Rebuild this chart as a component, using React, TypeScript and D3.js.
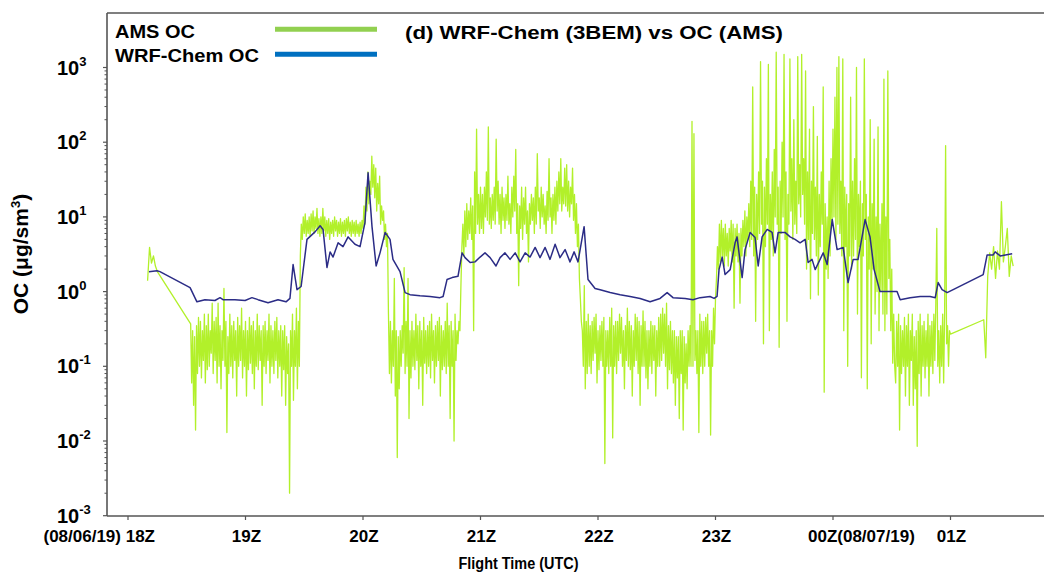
import React from 'react';
import * as d3 from 'd3';

const W = 1044;
const H = 576;
const FONT = '"Liberation Sans", Arial, Helvetica, sans-serif';

// x unit: minutes after 18Z (08/06/19)
const HOUR_TICKS = [0, 60, 120, 180, 240, 300, 360, 420];
const HOUR_LABELS = ['(08/06/19) 18Z', '19Z', '20Z', '21Z', '22Z', '23Z', '00Z(08/07/19)', '01Z'];
const Y_EXPONENTS = [-3, -2, -1, 0, 1, 2, 3];

// AMS OC observations; each array begins at the given minute with the given sample step (min)
const ams1 = [1.4, 3.9, 2.4, 3.0, 2.2, 1.85]; // from minute 10, step 1
const ams2 = [ // from minute 32, step 0.5
  0.37, 0.06, 0.3, 0.03, 0.25, 0.014, 0.35, 0.08, 0.45, 0.1,
  0.4, 0.07, 0.3, 0.12, 0.5, 0.06, 0.35, 0.09, 0.5, 0.1,
  0.3, 0.15, 0.7, 0.08, 0.4, 0.12, 0.45, 0.06, 0.7, 0.1,
  0.35, 0.05, 0.3, 0.12, 1.1, 0.1, 0.4, 0.013, 0.25, 0.08,
  0.5, 0.1, 0.35, 0.07, 0.4, 0.12, 0.3, 0.04, 0.45, 0.1,
  0.35, 0.12, 0.6, 0.07, 0.3, 0.1, 0.4, 0.04, 0.3, 0.09,
  0.45, 0.11, 0.35, 0.08, 0.4, 0.05, 0.3, 0.1, 0.5, 0.09,
  0.35, 0.12, 0.3, 0.03, 0.35, 0.1, 0.4, 0.08, 0.3, 0.12,
  0.5, 0.06, 0.35, 0.1, 0.3, 0.08, 0.4, 0.12, 0.45, 0.07,
  0.3, 0.1, 0.35, 0.04, 0.3, 0.09, 0.35, 0.03, 0.25, 0.08,
  0.2, 0.002, 0.3, 0.1, 0.5, 0.035, 0.3, 0.1, 0.6, 0.05,
  0.4, 0.1];
const ams3 = [ // from minute 88, step 0.5
  3, 8, 5, 10, 6, 11, 5.5, 9, 6, 10,
  5.5, 11, 6.5, 12, 6, 10, 7, 13, 6, 9.5,
  5.5, 10, 6, 13, 6.5, 10, 5.5, 9, 6, 9.5,
  5, 8.5, 6, 9, 5.5, 10, 6.5, 9, 5.5, 8.5,
  6, 9.5, 5.5, 8.5, 6, 9, 5.5, 9.5, 6.5, 10,
  6, 8.5, 5.5, 9, 6, 8.5, 5.5, 9, 6, 8,
  5.5, 8.5, 6, 9, 7, 14, 8, 25, 12, 40,
  15, 30, 20, 65, 25, 50, 18, 45, 12, 28,
  15, 35, 8, 14, 9, 12, 5, 8, 4, 6];
const ams4 = [ // from minute 133, step 0.5
  0.5, 0.08, 0.4, 0.06, 0.3, 0.1, 1.5, 0.04, 0.3, 0.006,
  0.25, 0.05, 0.3, 0.1, 0.35, 0.15, 2.1, 0.08, 0.4, 0.1,
  1.5, 0.02, 0.3, 0.07, 0.4, 0.1, 0.3, 0.09, 0.5, 0.12,
  0.35, 0.05, 0.4, 0.1, 0.3, 0.03, 0.45, 0.11, 0.3, 0.08,
  0.35, 0.1, 0.4, 0.07, 0.5, 0.12, 0.3, 0.06, 0.35, 0.1,
  0.4, 0.12, 0.45, 0.04, 0.35, 0.09, 0.3, 0.1, 0.4, 0.08,
  0.7, 0.1, 0.35, 0.02, 0.4, 0.1, 0.3, 0.01, 0.5, 0.12,
  0.3, 0.2, 0.4, 0.3, 1.2, 4];
const ams5 = [ // from minute 171, step 0.5
  8, 3, 12, 4, 15, 5, 12, 6, 18, 5,
  14, 0.3, 40, 6, 150, 8, 20, 6, 25, 7,
  20, 6, 25, 10, 40, 9, 160, 8, 18, 7,
  20, 9, 25, 8, 110, 12, 30, 8, 20, 6,
  25, 9, 18, 7, 20, 9, 35, 8, 15, 6,
  25, 10, 35, 12, 80, 6, 15, 1.2, 14, 7,
  25, 5, 18, 8, 25, 6, 12, 2.5, 15, 8,
  20, 9, 18, 6, 25, 8, 70, 12, 18, 7,
  25, 10, 20, 8, 14, 6, 22, 9, 60, 10,
  18, 6, 20, 9, 25, 8, 30, 12, 40, 15,
  60, 12, 25, 15, 45, 14, 50, 12, 30, 10,
  25, 15, 45, 9, 20, 6, 15, 4, 8, 1.5,
  0.8, 0.4];
const ams6 = [ // from minute 232, step 0.5
  0.3, 0.1, 1.2, 0.05, 0.4, 0.08, 0.5, 0.1, 0.35, 0.08,
  0.4, 0.12, 0.45, 0.15, 0.5, 0.06, 0.3, 0.09, 0.35, 0.12,
  0.4, 0.1, 0.45, 0.005, 0.3, 0.1, 0.3, 0.08, 0.45, 0.1,
  0.6, 0.011, 0.35, 0.1, 0.4, 0.08, 0.4, 0.12, 0.5, 0.15,
  0.45, 0.1, 0.3, 0.05, 0.35, 0.12, 0.6, 0.1, 0.4, 0.09,
  0.35, 0.04, 0.3, 0.1, 0.5, 0.12, 0.45, 0.08, 0.4, 0.03,
  0.35, 0.1, 0.55, 0.1, 0.4, 0.07, 0.3, 0.05, 0.3, 0.1,
  0.4, 0.08, 0.35, 0.12, 0.35, 0.04, 0.3, 0.1, 0.45, 0.1,
  0.5, 0.12, 0.6, 0.15, 0.5, 0.1, 0.7, 0.05, 0.35, 0.09,
  0.4, 0.08, 0.3, 0.06, 0.3, 0.03, 0.25, 0.07, 0.25, 0.02,
  0.3, 0.08, 0.3, 0.014, 0.25, 0.06, 0.2, 0.05, 0.3, 0.1,
  0.35, 0.1, 190, 0.1, 130, 0.12, 0.3, 0.08, 0.3, 0.013,
  0.5, 0.1, 0.4, 0.08, 0.4, 0.1, 0.45, 0.15, 0.5, 0.1,
  0.3, 0.012, 0.3, 0.1, 0.6, 0.2, 0.8, 1.5];
const ams7 = [ // from minute 301, step 0.5
  4, 2, 8, 2.5, 9, 3, 7, 2.2, 8, 3,
  6, 2.2, 7, 3.5, 9, 2.5, 8, 0.6, 7, 3,
  8, 2.5, 6, 0.7, 7, 3, 9, 4, 12, 3,
  10, 5, 15, 4, 30, 5, 550, 3, 25, 0.4,
  20, 5, 40, 6, 1200, 8, 30, 0.2, 25, 4,
  60, 8, 1100, 0.3, 20, 5, 40, 3, 80, 10,
  1600, 8, 25, 0.18, 30, 6, 100, 10, 1500, 5,
  40, 0.4, 20, 8, 1300, 12, 60, 5, 200, 8,
  30, 6, 1400, 15, 50, 10, 1500, 20, 60, 8,
  900, 2, 40, 5, 150, 0.8, 30, 6, 300, 5,
  25, 3, 120, 0.9, 20, 4, 40, 8, 550, 0.045,
  15, 2, 10, 1.5, 30, 3, 60, 8, 150, 10,
  400, 5, 1000, 8, 1400, 6, 30, 3, 1300, 0.3,
  25, 4, 20, 0.1, 15, 3, 400, 2, 30, 3,
  60, 5, 1000, 0.5, 20, 4, 30, 0.07, 15, 3,
  1300, 5, 20, 0.05, 10, 2, 200, 0.2, 15, 2,
  110, 0.5, 10, 1, 160, 0.3, 8, 1, 15, 0.5,
  700, 0.3, 10, 0.5, 900, 1.5, 5, 0.3, 2, 0.11,
  0.5, 0.1];
const ams8 = [ // from minute 392, step 0.5
  0.06, 0.4, 0.1, 0.5, 0.014, 0.35, 0.08, 0.3, 0.1, 0.45,
  0.04, 0.35, 0.1, 0.5, 0.03, 0.3, 0.12, 0.5, 0.03, 0.25,
  0.05, 0.3, 0.0085, 0.4, 0.08, 0.5, 0.04, 0.35, 0.1, 0.4,
  0.07, 0.3, 0.1, 0.5, 0.04, 0.35, 0.1, 0.4, 0.08, 0.5,
  0.12, 0.7, 7, 0.1, 0.3, 0.06, 0.35, 0.1, 0.5, 0.06,
  0.5, 90, 0.2, 0.35, 0.1, 0.3, 0.27];
const ams9 = [0.42, 0.13, 1.6, 3.3, 2, 4, 1.5, 3.5, 2, 16, 2.5, 4, 7, 1.6, 3, 2.2]; // from minute 437, step 1

const amsParts: [number, number, number[]][] = [
  [10, 1, ams1], [32, 0.5, ams2], [88, 0.5, ams3], [133, 0.5, ams4], [171, 0.5, ams5],
  [232, 0.5, ams6], [301, 0.5, ams7], [392, 0.5, ams8], [437, 1, ams9],
];

// WRF-Chem OC model: [minute after 18Z, value]
const wrf: [number, number][] = [
  [10.7, 1.85], [14.8, 1.9], [16.3, 1.85], [31.7, 1.13], [35.2, 0.73], [39.3, 0.78], [44.4, 0.76],
  [47, 0.83], [48.5, 0.78], [54.6, 0.78], [59.8, 0.76], [63.3, 0.83], [66.4, 0.78], [71.5, 0.71],
  [76.6, 0.78], [80.7, 0.73], [82.7, 0.81], [84.3, 2.3], [86.3, 1.06], [88.4, 1.17], [91.4, 5.0],
  [95.5, 6.3], [98.1, 7.6], [99.6, 6.8], [101.6, 2.1], [103.2, 3.4], [104.7, 2.9], [107.3, 4.5],
  [109.8, 4.0], [112.4, 5.4], [115.9, 4.3], [118.5, 4.0], [121, 8.4], [122.6, 39], [124.6, 7.4],
  [126.7, 2.2], [128.7, 3.3], [131.3, 6.2], [133.8, 5.0], [135.3, 2.7], [138.9, 1.85], [141.5, 0.97],
  [144, 0.91], [149.1, 0.88], [154.2, 0.86], [159.3, 0.83], [160.9, 0.86], [162.9, 1.45], [165.5, 1.54],
  [168.5, 1.6], [170.6, 3.3], [172.1, 2.85], [174.7, 2.45], [177.2, 2.5], [179.8, 2.9], [182.3, 3.3],
  [184.9, 2.85], [187.9, 2.2], [190, 2.85], [192.5, 3.3], [195.1, 2.7], [197.7, 3.3], [200.2, 2.5],
  [202.8, 3.3], [205.3, 2.9], [207.9, 3.9], [210.4, 2.85], [213, 3.9], [215.5, 2.7], [218.1, 4.3],
  [220.6, 2.85], [223.2, 3.65], [225.7, 2.5], [227.8, 3.4], [229.8, 2.5], [232.9, 7.4], [234.9, 1.45],
  [238.5, 1.1], [241.1, 1.06], [246.2, 0.97], [251.3, 0.91], [256.4, 0.86], [261.5, 0.81], [266.6, 0.73],
  [271.7, 0.81], [275.3, 0.97], [278.3, 0.83], [284.5, 0.81], [288.5, 0.78], [292.1, 0.83], [297.2, 0.86],
  [299.3, 0.81], [300.8, 0.86], [301.8, 1.97], [303.4, 2.9], [304.9, 1.69], [307.5, 1.97], [310, 4.5],
  [311, 5.4], [313.6, 1.54], [315.1, 3.65], [317.7, 6.2], [320.2, 5.3], [321.8, 2.2], [323.8, 5.4],
  [326.4, 6.8], [328.9, 6.2], [330.4, 3.3], [332, 6.2], [335.5, 6.2], [338.1, 5.4], [340.6, 5.0],
  [343.2, 4.5], [345.8, 5.0], [347.3, 2.45], [349.3, 2.7], [350.9, 1.97], [355, 3.3], [357, 2.3],
  [359.6, 9.2], [362.1, 3.65], [365.2, 3.9], [367.7, 1.32], [370.3, 2.7], [372.8, 2.7], [376.4, 9.2],
  [378.9, 5.4], [381, 1.97], [384, 1.0], [392.7, 1.0], [394.3, 0.78], [399.4, 0.83], [404.5, 0.86],
  [409.6, 0.86], [412.2, 0.83], [413.7, 1.32], [415.7, 1.06], [418.3, 0.97], [436.7, 1.69], [438.7, 3.1],
  [441.8, 3.1], [442.8, 3.4], [445.4, 3.0], [448, 3.1], [451.5, 3.2],
];

export default function App() {
  const left = 107, top = 13, bottom = 516, right = 1052;
  const x = d3.scaleLinear().domain([0, 420]).range([128, 950.5]);
  const y = d3.scaleLog().domain([1e-3, 1e3]).range([515.7, 67.5]);

  const amsPts: [number, number][] = [];
  amsParts.forEach(([s, step, vals]) => vals.forEach((v, i) => amsPts.push([s + i * step, v])));

  const line = d3.line<[number, number]>().x(d => x(d[0])).y(d => y(d[1]));

  const minor: number[] = [];
  for (let e = -3; e < 3; e++) for (let k = 2; k <= 9; k++) minor.push(k * Math.pow(10, e));

  const axisColor = '#555';

  return (
    <svg width={W} height={H} style={{ position: 'absolute', left: 0, top: 0, background: '#fff' }}
      fontFamily={FONT} fontWeight="bold">
      <defs>
        <clipPath id="plotclip"><rect x={left} y={top} width={right - left} height={bottom - top} /></clipPath>
      </defs>
      <rect x={0} y={0} width={W} height={H} fill="#fff" />

      {/* data */}
      <g clipPath="url(#plotclip)">
        <path d={line(amsPts) || ''} fill="none" stroke="#B2F02A" strokeWidth={1.3} strokeLinejoin="round" />
        <path d={line(wrf) || ''} fill="none" stroke="#2B2C86" strokeWidth={1.5} strokeLinejoin="round" />
      </g>

      {/* frame */}
      <line x1={left} y1={top} x2={right} y2={top} stroke={axisColor} strokeWidth={1.6} />
      <line x1={left} y1={top} x2={left} y2={bottom} stroke={axisColor} strokeWidth={1.6} />
      <line x1={left} y1={bottom} x2={right} y2={bottom} stroke={axisColor} strokeWidth={1.6} />

      {/* y ticks */}
      {minor.map((v, i) => (
        <line key={'m' + i} x1={left - 2.5} x2={left} y1={y(v)} y2={y(v)} stroke={axisColor} strokeWidth={1} />
      ))}
      {Y_EXPONENTS.map(e => (
        <g key={'y' + e}>
          <line x1={left - 4} x2={left} y1={y(Math.pow(10, e))} y2={y(Math.pow(10, e))} stroke={axisColor} strokeWidth={1.2} />
          <text x={57} y={y(Math.pow(10, e)) + 7} fontSize={20} fill="#000">
            10<tspan fontSize={13} dy={-9}>{e < 0 ? '-' + Math.abs(e) : String(e)}</tspan>
          </text>
        </g>
      ))}

      {/* x ticks */}
      {HOUR_TICKS.map((t, i) => {
        const px = x(t);
        let anchor: 'start' | 'middle' | 'end' = 'middle';
        let tx = px + 1;
        if (i === 0) { anchor = 'end'; tx = px + 27; }
        if (i === 6) { anchor = 'start'; tx = px - 25; }
        return (
          <g key={'x' + t}>
            <line x1={px} x2={px} y1={bottom} y2={bottom + 4} stroke={axisColor} strokeWidth={1.2} />
            <text x={tx} y={542} fontSize={17} textAnchor={anchor} fill="#000">{HOUR_LABELS[i]}</text>
          </g>
        );
      })}

      {/* axis titles */}
      <text x={458.5} y={569} fontSize={16} textLength={120} lengthAdjust="spacingAndGlyphs" fill="#000">Flight Time (UTC)</text>
      <text transform="translate(28,254) rotate(-90)" textAnchor="middle" fontSize={21} fill="#000">
        OC (μg/sm<tspan fontSize={13} dy={-8}>3</tspan><tspan dy={8}>)</tspan>
      </text>

      {/* title */}
      <text x={405} y={38.5} fontSize={18.5} textLength={378} lengthAdjust="spacingAndGlyphs" fill="#000">(d) WRF-Chem (3BEM) vs OC (AMS)</text>

      {/* legend */}
      <text x={115} y={37.5} fontSize={18} textLength={80} lengthAdjust="spacingAndGlyphs" fill="#000">AMS OC</text>
      <text x={115} y={62} fontSize={18} textLength={144} lengthAdjust="spacingAndGlyphs" fill="#000">WRF-Chem OC</text>
      <line x1={275} x2={377} y1={29.3} y2={29.3} stroke="#92D050" strokeWidth={5} />
      <line x1={275} x2={377} y1={54.3} y2={54.3} stroke="#0070C0" strokeWidth={5} />
    </svg>
  );
}
